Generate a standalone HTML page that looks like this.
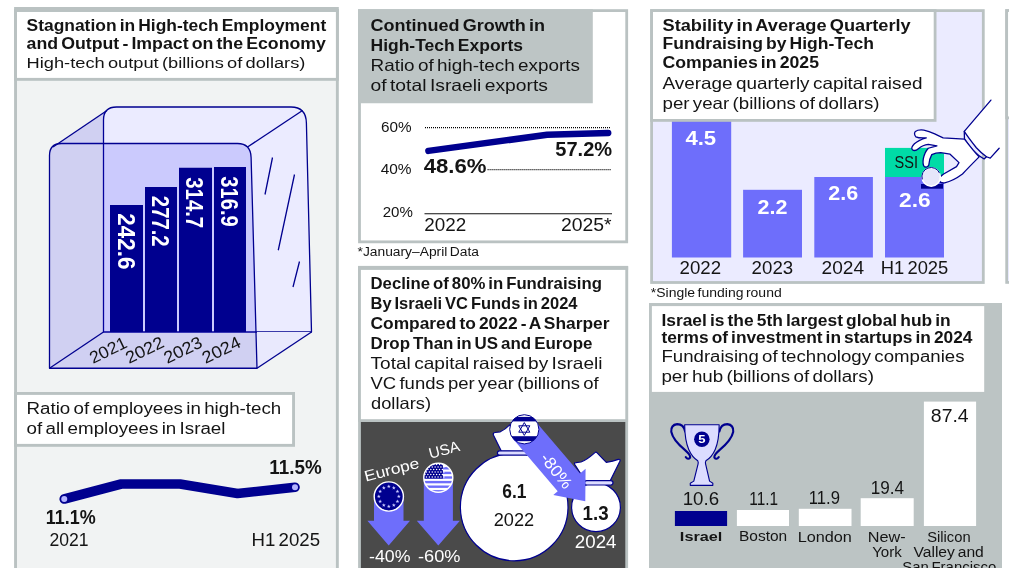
<!DOCTYPE html>
<html lang="en"><head><meta charset="utf-8"><title>High-tech infographic</title>
<style>
html,body{margin:0;padding:0;background:#fff;}
body{width:1009px;height:568px;overflow:hidden;}
svg{display:block;font-family:"Liberation Sans", sans-serif;}
text{white-space:pre;}
</style></head><body>
<svg width="1009" height="568" viewBox="0 0 1009 568">
<rect x="15.55" y="10.45" width="321.80" height="588.10" fill="#f1f3f3" stroke="#bac2c2" stroke-width="2.9"/>
<rect x="15.55" y="10.45" width="321.80" height="68.90" fill="#ffffff" stroke="#bac2c2" stroke-width="2.9"/>
<rect x="14.10" y="7.00" width="324.70" height="4.90" fill="#bac2c2" />
<text x="26.54" y="30.75" font-size="16" font-weight="700" fill="#141414" textLength="299.67" lengthAdjust="spacingAndGlyphs" word-spacing="-1.60" >Stagnation in High-tech Employment</text>
<text x="26.54" y="49.25" font-size="16" font-weight="700" fill="#141414" textLength="299.42" lengthAdjust="spacingAndGlyphs" word-spacing="-1.60" >and Output - Impact on the Economy</text>
<text x="26.57" y="68.00" font-size="15.5" font-weight="400" fill="#141414" textLength="278.86" lengthAdjust="spacingAndGlyphs" word-spacing="-1.55" >High-tech output (billions of dollars)</text>
<g stroke="#00008f" stroke-width="1.3" stroke-linejoin="round" fill="none">
<path d="M103.5 332 L103.5 120 Q103.5 107 116.5 107 L291 107 Q306 107 306.4 123 L311.5 332 Z" fill="#ebebff"/>
<path d="M257 332 L311.5 332 L257 368.25 Z" fill="#e9e9fd" stroke="none"/>
<path d="M49.5 368.25 L49.5 155.5 Q49.5 143.5 61.5 143.5 L237.5 143.5 Q250.7 143.5 251.1 157.5 L257 368.25 Z" fill="rgba(22,15,241,0.15)"/>
<path d="M53 147 L107 110.5 Q103.5 114 103.5 120 L103.5 143.5 L61.5 143.5 Q56 143.5 53 147 Z" fill="rgba(22,15,241,0.15)" stroke="none"/>
<path d="M53 147 L107 110.5"/>
<path d="M247.5 147 L302.5 110.5"/>
<path d="M49.5 368.25 L103.5 332"/>
<path d="M257 368.25 L311.5 332"/>
<path d="M272.5 157.5 L265 194.5 M294.5 174.5 L278.25 250.25 M299.5 261.5 L293 287"/>
</g>
<rect x="110.00" y="205.00" width="33.00" height="127.00" fill="#00008f" />
<rect x="145.00" y="187.00" width="32.00" height="145.00" fill="#00008f" />
<rect x="179.00" y="167.75" width="33.00" height="164.25" fill="#00008f" />
<rect x="214.00" y="167.00" width="32.00" height="165.00" fill="#00008f" />
<text transform="translate(117.52,213.35) rotate(90)" font-size="23" font-weight="700" fill="#fff" textLength="56.05" lengthAdjust="spacingAndGlyphs">242.6</text>
<text transform="translate(151.77,195.85) rotate(90)" font-size="23" font-weight="700" fill="#fff" textLength="50.80" lengthAdjust="spacingAndGlyphs">277.2</text>
<text transform="translate(186.37,177.35) rotate(90)" font-size="23" font-weight="700" fill="#fff" textLength="50.70" lengthAdjust="spacingAndGlyphs">314.7</text>
<text transform="translate(220.77,176.35) rotate(90)" font-size="23" font-weight="700" fill="#fff" textLength="50.30" lengthAdjust="spacingAndGlyphs">316.9</text>
<text transform="translate(93.00,364.00) rotate(-26)" font-size="17" font-weight="400" fill="#141414" textLength="39.50" lengthAdjust="spacingAndGlyphs">2021</text>
<text transform="translate(128.90,364.00) rotate(-26)" font-size="17" font-weight="400" fill="#141414" textLength="40.50" lengthAdjust="spacingAndGlyphs">2022</text>
<text transform="translate(167.20,364.00) rotate(-26)" font-size="17" font-weight="400" fill="#141414" textLength="40.50" lengthAdjust="spacingAndGlyphs">2023</text>
<text transform="translate(205.60,364.00) rotate(-26)" font-size="17" font-weight="400" fill="#141414" textLength="40.50" lengthAdjust="spacingAndGlyphs">2024</text>
<rect x="15.55" y="393.45" width="278.00" height="51.90" fill="#ffffff" stroke="#bac2c2" stroke-width="2.9"/>
<text x="26.54" y="414.00" font-size="16" font-weight="400" fill="#141414" textLength="254.67" lengthAdjust="spacingAndGlyphs" word-spacing="-1.60" >Ratio of employees in high-tech</text>
<text x="26.54" y="434.00" font-size="16" font-weight="400" fill="#141414" textLength="198.92" lengthAdjust="spacingAndGlyphs" word-spacing="-1.60" >of all employees in Israel</text>
<polyline points="64.25,499 121.25,484 180,484 237.5,493.5 295,487.25" fill="none" stroke="#00008f" stroke-width="9.6" stroke-linecap="round" stroke-linejoin="round"/>
<circle cx="64.25" cy="499" r="3" fill="#b4b4ff"/><circle cx="295" cy="487.25" r="3" fill="#b4b4ff"/>
<text x="45.84" y="524.25" font-size="19.4" font-weight="700" fill="#141414" textLength="49.93" lengthAdjust="spacingAndGlyphs" >11.1%</text>
<text x="49.43" y="545.60" font-size="17.8" font-weight="400" fill="#141414" textLength="39.14" lengthAdjust="spacingAndGlyphs" >2021</text>
<text x="269.34" y="473.50" font-size="19.4" font-weight="700" fill="#141414" textLength="52.33" lengthAdjust="spacingAndGlyphs" >11.5%</text>
<text x="251.43" y="545.60" font-size="17.8" font-weight="400" fill="#141414" textLength="68.64" lengthAdjust="spacingAndGlyphs" word-spacing="-1.78" >H1 2025</text>
<rect x="359.50" y="10.60" width="267.20" height="231.25" fill="#ffffff" stroke="#bac2c2" stroke-width="2.8"/>
<rect x="358.10" y="9.20" width="234.70" height="94.05" fill="#bdc5c5" />
<text x="370.51" y="30.50" font-size="16.5" font-weight="700" fill="#141414" textLength="174.48" lengthAdjust="spacingAndGlyphs" word-spacing="-1.65" >Continued Growth in</text>
<text x="370.51" y="50.50" font-size="16.5" font-weight="700" fill="#141414" textLength="152.48" lengthAdjust="spacingAndGlyphs" word-spacing="-1.65" >High-Tech Exports</text>
<text x="370.51" y="70.50" font-size="16.5" font-weight="400" fill="#141414" textLength="209.48" lengthAdjust="spacingAndGlyphs" word-spacing="-1.65" >Ratio of high-tech exports</text>
<text x="370.51" y="90.50" font-size="16.5" font-weight="400" fill="#141414" textLength="177.48" lengthAdjust="spacingAndGlyphs" word-spacing="-1.65" >of total Israeli exports</text>
<text x="380.96" y="131.70" font-size="14" font-weight="400" fill="#141414" textLength="30.58" lengthAdjust="spacingAndGlyphs" >60%</text>
<text x="380.66" y="173.70" font-size="14" font-weight="400" fill="#141414" textLength="30.88" lengthAdjust="spacingAndGlyphs" >40%</text>
<text x="382.66" y="217.20" font-size="14" font-weight="400" fill="#141414" textLength="30.18" lengthAdjust="spacingAndGlyphs" >20%</text>
<line x1="425" y1="127.6" x2="611" y2="127.6" stroke="#000" stroke-width="1.2" stroke-dasharray="1 1"/>
<line x1="487.6" y1="169.7" x2="611" y2="169.7" stroke="#000" stroke-width="1.2" stroke-dasharray="1 1"/>
<line x1="424.5" y1="213.75" x2="612" y2="213.75" stroke="#111" stroke-width="1.2"/>
<polyline points="428.4,150.9 547.1,134.8 608.2,133" fill="none" stroke="#00008f" stroke-width="6.5" stroke-linecap="round" stroke-linejoin="round"/>
<text x="423.72" y="172.70" font-size="19.6" font-weight="700" fill="#141414" textLength="62.85" lengthAdjust="spacingAndGlyphs" >48.6%</text>
<text x="555.32" y="155.60" font-size="19.6" font-weight="700" fill="#141414" textLength="56.85" lengthAdjust="spacingAndGlyphs" >57.2%</text>
<text x="424.33" y="230.80" font-size="17.8" font-weight="400" fill="#141414" textLength="41.94" lengthAdjust="spacingAndGlyphs" >2022</text>
<text x="560.93" y="230.80" font-size="17.8" font-weight="400" fill="#141414" textLength="50.64" lengthAdjust="spacingAndGlyphs" >2025*</text>
<text x="357.53" y="255.75" font-size="12" font-weight="400" fill="#141414" textLength="121.44" lengthAdjust="spacingAndGlyphs" word-spacing="-1.20" >*January–April Data</text>
<rect x="651.60" y="10.60" width="331.70" height="271.90" fill="#ebebff" stroke="#bac2c2" stroke-width="2.8"/>
<rect x="671.90" y="115.00" width="59.30" height="142.50" fill="#6e6efb" />
<rect x="743.10" y="189.80" width="58.90" height="67.70" fill="#6e6efb" />
<rect x="814.30" y="177.00" width="58.60" height="80.50" fill="#6e6efb" />
<rect x="885.00" y="177.00" width="59.00" height="80.50" fill="#6e6efb" />
<rect x="885.00" y="147.90" width="59.00" height="29.10" fill="#00dba6" />
<rect x="651.60" y="10.60" width="283.50" height="109.80" fill="#ffffff" stroke="#bac2c2" stroke-width="2.8"/>
<text x="662.54" y="30.50" font-size="16" font-weight="700" fill="#141414" textLength="248.17" lengthAdjust="spacingAndGlyphs" word-spacing="-1.60" >Stability in Average Quarterly</text>
<text x="662.54" y="49.25" font-size="16" font-weight="700" fill="#141414" textLength="211.42" lengthAdjust="spacingAndGlyphs" word-spacing="-1.60" >Fundraising by High-Tech</text>
<text x="662.54" y="68.00" font-size="16" font-weight="700" fill="#141414" textLength="156.42" lengthAdjust="spacingAndGlyphs" word-spacing="-1.60" >Companies in 2025</text>
<text x="662.51" y="89.00" font-size="16.5" font-weight="400" fill="#141414" textLength="259.98" lengthAdjust="spacingAndGlyphs" word-spacing="-1.65" >Average quarterly capital raised</text>
<text x="662.51" y="109.00" font-size="16.5" font-weight="400" fill="#141414" textLength="216.98" lengthAdjust="spacingAndGlyphs" word-spacing="-1.65" >per year (billions of dollars)</text>
<text x="685.40" y="145.00" font-size="20" font-weight="700" fill="#fff" textLength="30.80" lengthAdjust="spacingAndGlyphs" >4.5</text>
<text x="757.50" y="213.70" font-size="20" font-weight="700" fill="#fff" textLength="29.90" lengthAdjust="spacingAndGlyphs" >2.2</text>
<text x="828.30" y="200.20" font-size="20" font-weight="700" fill="#fff" textLength="29.90" lengthAdjust="spacingAndGlyphs" >2.6</text>
<text x="899.00" y="207.00" font-size="20" font-weight="700" fill="#fff" textLength="31.60" lengthAdjust="spacingAndGlyphs" >2.6</text>
<text x="894.54" y="167.75" font-size="16" font-weight="400" fill="#141414" textLength="23.42" lengthAdjust="spacingAndGlyphs" >SSI</text>
<text x="679.53" y="274.40" font-size="17.8" font-weight="400" fill="#141414" textLength="41.54" lengthAdjust="spacingAndGlyphs" >2022</text>
<text x="751.63" y="274.40" font-size="17.8" font-weight="400" fill="#141414" textLength="41.54" lengthAdjust="spacingAndGlyphs" >2023</text>
<text x="821.53" y="274.40" font-size="17.8" font-weight="400" fill="#141414" textLength="42.54" lengthAdjust="spacingAndGlyphs" >2024</text>
<text x="880.68" y="274.40" font-size="17.8" font-weight="400" fill="#141414" textLength="67.64" lengthAdjust="spacingAndGlyphs" word-spacing="-1.78" >H1 2025</text>
<text x="650.78" y="296.50" font-size="12" font-weight="400" fill="#141414" textLength="130.94" lengthAdjust="spacingAndGlyphs" word-spacing="-1.20" >*Single funding round</text>
<rect x="921.00" y="184.00" width="22.00" height="4.70" fill="#00008f" />
<g transform="translate(905,120) scale(0.09911)" stroke="#00008f" stroke-width="13" stroke-linejoin="round" stroke-linecap="round" fill="#fff">
<path d="M867 -201 L598 115 Q640 180 720 280 Q770 335 822 371 L860 385 L950 285 Z" stroke="none"/>
<path d="M867 -201 L598 115 Q640 180 720 280 Q770 335 822 371 L860 385 L950 285" fill="none"/>
<path d="M598 115 L600 190 Q630 240 685 305 Q740 362 798 393 L822 371" fill="none"/>
<path d="M600 192 L385 180 Q340 160 300 140 Q240 112 190 102 Q130 96 105 115 Q85 140 110 170 Q140 185 215 180 Q140 200 95 240 Q55 280 75 300 Q100 320 135 290 Q180 250 235 245 L322 260 L235 285 Q200 320 185 390 Q175 450 195 470 Q225 485 240 455 Q242 400 270 350 Q310 330 360 330 L455 345 L545 430 L520 470 L390 545 Q345 575 345 610 Q355 640 400 635 Q490 612 580 545 Q650 470 748 372 Q690 310 600 192 Z"/>
</g>
<circle cx="931.2" cy="177" r="9.2" fill="#e6e6fa" stroke="#fff" stroke-width="1.4"/>
<path d="M922.3 179.4 A9.2 9.2 0 0 1 939.6 173.2" fill="none" stroke="#00008f" stroke-width="1"/>
<rect x="1006.67" y="10.57" width="91.95" height="271.85" fill="#ebebff" stroke="#bac2c2" stroke-width="2.75"/>
<rect x="1006.67" y="10.57" width="91.95" height="107.25" fill="#ffffff" stroke="#bac2c2" stroke-width="2.75"/>
<rect x="359.50" y="267.65" width="267.20" height="330.95" fill="#4a4a4a" stroke="#bac2c2" stroke-width="2.8"/>
<rect x="359.50" y="267.65" width="267.20" height="152.95" fill="#ffffff" stroke="#bac2c2" stroke-width="2.8"/>
<rect x="358.10" y="265.90" width="270.00" height="4.00" fill="#bac2c2" />
<text x="370.51" y="288.50" font-size="16.5" font-weight="700" fill="#141414" textLength="231.48" lengthAdjust="spacingAndGlyphs" word-spacing="-1.65" >Decline of 80% in Fundraising</text>
<text x="370.51" y="308.50" font-size="16.5" font-weight="700" fill="#141414" textLength="206.98" lengthAdjust="spacingAndGlyphs" word-spacing="-1.65" >By Israeli VC Funds in 2024</text>
<text x="370.51" y="328.50" font-size="16.5" font-weight="700" fill="#141414" textLength="238.98" lengthAdjust="spacingAndGlyphs" word-spacing="-1.65" >Compared to 2022 - A Sharper</text>
<text x="370.51" y="348.50" font-size="16.5" font-weight="700" fill="#141414" textLength="221.98" lengthAdjust="spacingAndGlyphs" word-spacing="-1.65" >Drop Than in US and Europe</text>
<text x="370.51" y="368.50" font-size="16.5" font-weight="400" fill="#141414" textLength="231.98" lengthAdjust="spacingAndGlyphs" word-spacing="-1.65" >Total capital raised by Israeli</text>
<text x="370.51" y="388.50" font-size="16.5" font-weight="400" fill="#141414" textLength="228.23" lengthAdjust="spacingAndGlyphs" word-spacing="-1.65" >VC funds per year (billions of</text>
<text x="371.01" y="408.50" font-size="16.5" font-weight="400" fill="#141414" textLength="59.98" lengthAdjust="spacingAndGlyphs" >dollars)</text>
<path d="M374 496 L403.5 496 L403.5 520.7 L410 520.7 L388.7 545.6 L367.4 520.7 L374 520.7 Z" fill="#6e6efb"/>
<path d="M423.8 478 L452.9 478 L452.9 520.7 L459.9 520.7 L438.3 545.6 L416.8 520.7 L423.8 520.7 Z" fill="#6e6efb"/>
<circle cx="388.8" cy="496.5" r="14.6" fill="#00008f" stroke="#fff" stroke-width="1.4"/>
<polygon points="398.80,494.50 399.30,495.81 400.70,495.88 399.61,496.76 399.98,498.12 398.80,497.35 397.62,498.12 397.99,496.76 396.90,495.88 398.30,495.81" fill="#c9c9ff"/>
<polygon points="397.46,499.50 397.96,500.81 399.36,500.88 398.27,501.76 398.64,503.12 397.46,502.35 396.28,503.12 396.65,501.76 395.56,500.88 396.96,500.81" fill="#c9c9ff"/>
<polygon points="393.80,503.16 394.30,504.47 395.70,504.54 394.61,505.42 394.98,506.78 393.80,506.01 392.62,506.78 392.99,505.42 391.90,504.54 393.30,504.47" fill="#c9c9ff"/>
<polygon points="388.80,504.50 389.30,505.81 390.70,505.88 389.61,506.76 389.98,508.12 388.80,507.35 387.62,508.12 387.99,506.76 386.90,505.88 388.30,505.81" fill="#c9c9ff"/>
<polygon points="383.80,503.16 384.30,504.47 385.70,504.54 384.61,505.42 384.98,506.78 383.80,506.01 382.62,506.78 382.99,505.42 381.90,504.54 383.30,504.47" fill="#c9c9ff"/>
<polygon points="380.14,499.50 380.64,500.81 382.04,500.88 380.95,501.76 381.32,503.12 380.14,502.35 378.96,503.12 379.33,501.76 378.24,500.88 379.64,500.81" fill="#c9c9ff"/>
<polygon points="378.80,494.50 379.30,495.81 380.70,495.88 379.61,496.76 379.98,498.12 378.80,497.35 377.62,498.12 377.99,496.76 376.90,495.88 378.30,495.81" fill="#c9c9ff"/>
<polygon points="380.14,489.50 380.64,490.81 382.04,490.88 380.95,491.76 381.32,493.12 380.14,492.35 378.96,493.12 379.33,491.76 378.24,490.88 379.64,490.81" fill="#c9c9ff"/>
<polygon points="383.80,485.84 384.30,487.15 385.70,487.22 384.61,488.10 384.98,489.46 383.80,488.69 382.62,489.46 382.99,488.10 381.90,487.22 383.30,487.15" fill="#c9c9ff"/>
<polygon points="388.80,484.50 389.30,485.81 390.70,485.88 389.61,486.76 389.98,488.12 388.80,487.35 387.62,488.12 387.99,486.76 386.90,485.88 388.30,485.81" fill="#c9c9ff"/>
<polygon points="393.80,485.84 394.30,487.15 395.70,487.22 394.61,488.10 394.98,489.46 393.80,488.69 392.62,489.46 392.99,488.10 391.90,487.22 393.30,487.15" fill="#c9c9ff"/>
<polygon points="397.46,489.50 397.96,490.81 399.36,490.88 398.27,491.76 398.64,493.12 397.46,492.35 396.28,493.12 396.65,491.76 395.56,490.88 396.96,490.81" fill="#c9c9ff"/>
<clipPath id="usc"><circle cx="438.3" cy="477.7" r="14.5"/></clipPath>
<g clip-path="url(#usc)">
<rect x="420.00" y="460.00" width="36.00" height="35.00" fill="#ffffff" />
<rect x="420.00" y="462.50" width="36.00" height="2.40" fill="#6e6efb" />
<rect x="420.00" y="467.10" width="36.00" height="2.40" fill="#6e6efb" />
<rect x="420.00" y="471.70" width="36.00" height="2.40" fill="#6e6efb" />
<rect x="420.00" y="476.30" width="36.00" height="2.40" fill="#6e6efb" />
<rect x="420.00" y="480.90" width="36.00" height="2.40" fill="#6e6efb" />
<rect x="420.00" y="485.50" width="36.00" height="2.40" fill="#6e6efb" />
<rect x="420.00" y="490.10" width="36.00" height="2.40" fill="#6e6efb" />
<rect x="420.00" y="460.00" width="22.90" height="18.60" fill="#00008f" />
<circle cx="425.00" cy="464.60" r="0.75" fill="#fff"/>
<circle cx="427.90" cy="464.60" r="0.75" fill="#fff"/>
<circle cx="430.80" cy="464.60" r="0.75" fill="#fff"/>
<circle cx="433.70" cy="464.60" r="0.75" fill="#fff"/>
<circle cx="436.60" cy="464.60" r="0.75" fill="#fff"/>
<circle cx="439.50" cy="464.60" r="0.75" fill="#fff"/>
<circle cx="442.40" cy="464.60" r="0.75" fill="#fff"/>
<circle cx="426.45" cy="467.10" r="0.75" fill="#fff"/>
<circle cx="429.35" cy="467.10" r="0.75" fill="#fff"/>
<circle cx="432.25" cy="467.10" r="0.75" fill="#fff"/>
<circle cx="435.15" cy="467.10" r="0.75" fill="#fff"/>
<circle cx="438.05" cy="467.10" r="0.75" fill="#fff"/>
<circle cx="440.95" cy="467.10" r="0.75" fill="#fff"/>
<circle cx="443.85" cy="467.10" r="0.75" fill="#fff"/>
<circle cx="425.00" cy="469.60" r="0.75" fill="#fff"/>
<circle cx="427.90" cy="469.60" r="0.75" fill="#fff"/>
<circle cx="430.80" cy="469.60" r="0.75" fill="#fff"/>
<circle cx="433.70" cy="469.60" r="0.75" fill="#fff"/>
<circle cx="436.60" cy="469.60" r="0.75" fill="#fff"/>
<circle cx="439.50" cy="469.60" r="0.75" fill="#fff"/>
<circle cx="442.40" cy="469.60" r="0.75" fill="#fff"/>
<circle cx="426.45" cy="472.10" r="0.75" fill="#fff"/>
<circle cx="429.35" cy="472.10" r="0.75" fill="#fff"/>
<circle cx="432.25" cy="472.10" r="0.75" fill="#fff"/>
<circle cx="435.15" cy="472.10" r="0.75" fill="#fff"/>
<circle cx="438.05" cy="472.10" r="0.75" fill="#fff"/>
<circle cx="440.95" cy="472.10" r="0.75" fill="#fff"/>
<circle cx="443.85" cy="472.10" r="0.75" fill="#fff"/>
<circle cx="425.00" cy="474.60" r="0.75" fill="#fff"/>
<circle cx="427.90" cy="474.60" r="0.75" fill="#fff"/>
<circle cx="430.80" cy="474.60" r="0.75" fill="#fff"/>
<circle cx="433.70" cy="474.60" r="0.75" fill="#fff"/>
<circle cx="436.60" cy="474.60" r="0.75" fill="#fff"/>
<circle cx="439.50" cy="474.60" r="0.75" fill="#fff"/>
<circle cx="442.40" cy="474.60" r="0.75" fill="#fff"/>
<circle cx="426.45" cy="477.10" r="0.75" fill="#fff"/>
<circle cx="429.35" cy="477.10" r="0.75" fill="#fff"/>
<circle cx="432.25" cy="477.10" r="0.75" fill="#fff"/>
<circle cx="435.15" cy="477.10" r="0.75" fill="#fff"/>
<circle cx="438.05" cy="477.10" r="0.75" fill="#fff"/>
<circle cx="440.95" cy="477.10" r="0.75" fill="#fff"/>
<circle cx="443.85" cy="477.10" r="0.75" fill="#fff"/>
</g>
<circle cx="438.3" cy="477.7" r="14.5" fill="none" stroke="#fff" stroke-width="1.4"/>
<text transform="translate(365.80,481.60) rotate(-14.5)" font-size="15" font-weight="400" fill="#fff" textLength="56.00" lengthAdjust="spacingAndGlyphs">Europe</text>
<text transform="translate(430.20,458.70) rotate(-14.5)" font-size="15" font-weight="400" fill="#fff" textLength="31.50" lengthAdjust="spacingAndGlyphs">USA</text>
<text x="369.04" y="561.70" font-size="16" font-weight="400" fill="#fff" textLength="41.42" lengthAdjust="spacingAndGlyphs" >-40%</text>
<text x="418.04" y="561.70" font-size="16" font-weight="400" fill="#fff" textLength="42.42" lengthAdjust="spacingAndGlyphs" >-60%</text>
<g stroke="#00008f" stroke-width="1.2" fill="#fff" stroke-linejoin="round">
<path d="M501.3 451 L493.5 435.2 Q492.6 432.9 495 432.5 L500.3 431.8 Q505.5 429.5 509.7 424.8 L535 430 L530 452 Z"/>
<circle cx="514.2" cy="507" r="53.8"/>
<rect x="497.4" y="450.8" width="34" height="4.3" rx="2.1" fill="#dcdcff"/>
<path d="M586 482 L574.8 464.6 Q573.7 462.7 576 462.6 L581 462 Q587.5 459.5 594.9 452.6 Q595.9 451.6 596.9 452.6 Q601.5 457.5 606.3 462.3 Q613 461.6 618.3 459.4 Q620.7 458.8 619.9 461.2 L609.6 482 Z"/>
<circle cx="596" cy="507.25" r="24.4"/>
<rect x="584.5" y="480.6" width="28.5" height="4.4" rx="2.2" fill="#dcdcff"/>
</g>
<text x="502.22" y="497.50" font-size="19.6" font-weight="700" fill="#141414" textLength="24.15" lengthAdjust="spacingAndGlyphs" >6.1</text>
<text x="493.73" y="525.60" font-size="17.8" font-weight="400" fill="#141414" textLength="40.44" lengthAdjust="spacingAndGlyphs" >2022</text>
<text x="582.62" y="520.20" font-size="19.6" font-weight="700" fill="#141414" textLength="26.05" lengthAdjust="spacingAndGlyphs" >1.3</text>
<text x="574.83" y="547.60" font-size="17.8" font-weight="400" fill="#fff" textLength="41.64" lengthAdjust="spacingAndGlyphs" >2024</text>
<g transform="translate(524.3,429) rotate(49.5)"><path d="M0 -13.5 L70 -13.5 L70 -20.8 L94.5 0.5 L69 20.8 L69 15 L0 15 Z" fill="#6e6efb"/></g>
<clipPath id="ilc"><circle cx="524.3" cy="429.3" r="14.6"/></clipPath>
<g clip-path="url(#ilc)">
<rect x="508.00" y="412.00" width="33.00" height="34.00" fill="#ffffff" />
<rect x="508.00" y="416.90" width="33.00" height="4.50" fill="#00008f" />
<rect x="508.00" y="436.20" width="33.00" height="5.00" fill="#00008f" />
<path d="M524.3 422.6 L529.85 432.2 L518.75 432.2 Z M524.3 435.4 L518.75 425.8 L529.85 425.8 Z" fill="none" stroke="#00008f" stroke-width="1"/>
</g>
<circle cx="524.3" cy="429.3" r="14.6" fill="none" stroke="#00008f" stroke-width="1"/>
<text transform="translate(539.50,458.30) rotate(52)" font-size="16.5" font-weight="400" fill="#fff" textLength="40.50" lengthAdjust="spacingAndGlyphs">-80%</text>
<rect x="649.00" y="303.00" width="353.00" height="297.00" fill="#bcc4c4" />
<rect x="651.90" y="306.10" width="332.30" height="85.80" fill="#ffffff" />
<text x="661.44" y="325.70" font-size="16" font-weight="700" fill="#141414" textLength="289.27" lengthAdjust="spacingAndGlyphs" word-spacing="-1.60" >Israel is the 5th largest global hub in</text>
<text x="661.44" y="343.00" font-size="16" font-weight="700" fill="#141414" textLength="311.02" lengthAdjust="spacingAndGlyphs" word-spacing="-1.60" >terms of investment in startups in 2024</text>
<text x="661.44" y="362.30" font-size="16" font-weight="400" fill="#141414" textLength="303.02" lengthAdjust="spacingAndGlyphs" word-spacing="-1.60" >Fundraising of technology companies</text>
<text x="661.44" y="381.60" font-size="16" font-weight="400" fill="#141414" textLength="212.52" lengthAdjust="spacingAndGlyphs" word-spacing="-1.60" >per hub (billions of dollars)</text>
<rect x="674.90" y="511.00" width="52.20" height="15.00" fill="#00008f" />
<rect x="736.90" y="510.00" width="52.10" height="16.00" fill="#fff" />
<rect x="798.80" y="508.80" width="52.70" height="17.20" fill="#fff" />
<rect x="860.70" y="498.20" width="53.00" height="27.80" fill="#fff" />
<rect x="923.90" y="401.60" width="52.20" height="124.40" fill="#fff" />
<text x="682.65" y="505.40" font-size="17.5" font-weight="400" fill="#141414" textLength="36.40" lengthAdjust="spacingAndGlyphs" >10.6</text>
<text x="749.25" y="504.80" font-size="17.5" font-weight="400" fill="#141414" textLength="28.80" lengthAdjust="spacingAndGlyphs" >11.1</text>
<text x="808.75" y="503.50" font-size="17.5" font-weight="400" fill="#141414" textLength="31.20" lengthAdjust="spacingAndGlyphs" >11.9</text>
<text x="870.75" y="493.50" font-size="17.5" font-weight="400" fill="#141414" textLength="33.30" lengthAdjust="spacingAndGlyphs" >19.4</text>
<text x="930.85" y="422.00" font-size="17.5" font-weight="400" fill="#141414" textLength="37.80" lengthAdjust="spacingAndGlyphs" >87.4</text>
<text x="679.88" y="541.40" font-size="13.6" font-weight="700" fill="#141414" textLength="42.53" lengthAdjust="spacingAndGlyphs" >Israel</text>
<text x="739.06" y="541.40" font-size="14" font-weight="400" fill="#141414" textLength="48.18" lengthAdjust="spacingAndGlyphs" >Boston</text>
<text x="797.66" y="541.50" font-size="14" font-weight="400" fill="#141414" textLength="54.18" lengthAdjust="spacingAndGlyphs" >London</text>
<text x="867.66" y="541.50" font-size="14" font-weight="400" fill="#141414" textLength="37.93" lengthAdjust="spacingAndGlyphs" >New-</text>
<text x="872.16" y="556.50" font-size="14" font-weight="400" fill="#141414" textLength="29.68" lengthAdjust="spacingAndGlyphs" >York</text>
<text x="927.16" y="541.50" font-size="14" font-weight="400" fill="#141414" textLength="43.43" lengthAdjust="spacingAndGlyphs" >Silicon</text>
<text x="913.41" y="556.50" font-size="14" font-weight="400" fill="#141414" textLength="70.43" lengthAdjust="spacingAndGlyphs" word-spacing="-1.40" >Valley and</text>
<text x="902.16" y="571.50" font-size="14" font-weight="400" fill="#141414" textLength="94.18" lengthAdjust="spacingAndGlyphs" word-spacing="-1.40" >San Francisco</text>
<g transform="translate(660,410) scale(0.14085)" stroke="#00008f" stroke-linecap="round" stroke-linejoin="round">
<path d="M178 152 Q168 100 122 100 Q76 105 80 155 Q92 215 178 285 Q218 320 214 338 Q200 356 183 334" fill="none" stroke-width="15"/>
<path d="M422 152 Q432 100 478 100 Q524 105 520 155 Q508 215 422 285 Q382 320 386 338 Q400 356 417 334" fill="none" stroke-width="15"/>
<path d="M175 105 L420 105 Q420 215 392 280 Q368 335 326 360 Q320 372 324 385 L352 505 L375 520 L375 535 L215 535 L215 520 L240 505 L270 385 Q274 372 268 360 Q228 335 204 280 Q176 215 175 105 Z" fill="#dcdcff" stroke-width="8"/>
<circle cx="297" cy="208" r="55" fill="#00008f" stroke="none"/>
</g>
<text x="698.17" y="443.20" font-size="10.5" font-weight="700" fill="#fff" textLength="7.26" lengthAdjust="spacingAndGlyphs" >5</text>
</svg>
</body></html>
